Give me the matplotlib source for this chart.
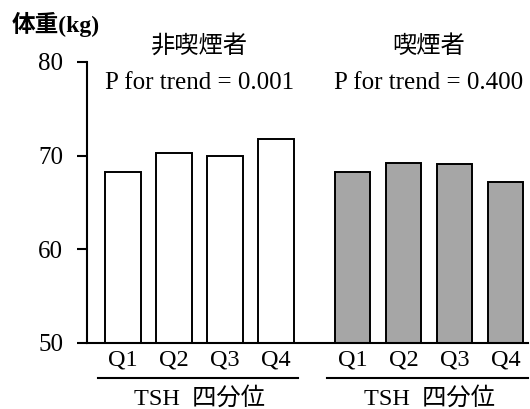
import numpy as np
import matplotlib.pyplot as plt

# 体重の平均値（TSH四分位ごと）
quartiles = ['Q1', 'Q2', 'Q3', 'Q4']
nonsmoker_weight = [68.2, 70.25, 69.9, 71.8]
smoker_weight = [68.2, 69.25, 69.1, 67.2]
group_titles = ['非喫煙者', '喫煙者']
trend_labels = ['P for trend = 0.001', 'P for trend = 0.400']
xlabel_text = 'TSH  四分位'
ylabel_text = '体重(kg)'
yticks = [50, 60, 70, 80]

serif = ['Liberation Serif', 'Noto Sans CJK JP']
cjk = ['Noto Sans CJK JP', 'DejaVu Sans']

fig = plt.figure(figsize=(5.3, 4.09), dpi=100)
ax = fig.add_axes([0.1636, 0.1614, 0.8324, 0.6876])

x_left = np.arange(4)
x_right = np.arange(4) + 4.5
width = 0.7

ax.bar(x_left, nonsmoker_weight, width=width, bottom=0, color='white',
       edgecolor='black', linewidth=1.4, zorder=2)
ax.bar(x_right, smoker_weight, width=width, bottom=0, color='#a6a6a6',
       edgecolor='black', linewidth=1.4, zorder=2)

ax.set_ylim(50, 80)
ax.set_xlim(-0.712, 7.94)
ax.set_yticks(yticks)
ax.set_yticklabels([str(v) for v in yticks], fontfamily=serif, fontsize=18)
ax.set_xticks(np.concatenate([x_left, x_right]))
ax.set_xticklabels(quartiles * 2, fontfamily=serif, fontsize=17.5)
ax.tick_params(axis='y', direction='out', length=7, width=1.5, pad=10)
ax.tick_params(axis='x', length=0, pad=5)

for side in ['top', 'right']:
    ax.spines[side].set_visible(False)
for side in ['left', 'bottom']:
    ax.spines[side].set_linewidth(1.5)

trans = ax.get_xaxis_transform()
for i, xs in enumerate([x_left, x_right]):
    center = (xs[0] + xs[-1]) / 2
    ax.text(center, 1.056, group_titles[i], transform=trans, ha='center',
            va='center', fontfamily=cjk, fontsize=17.5)
    ax.text(center, 0.925, trend_labels[i], transform=trans, ha='center',
            va='center', fontfamily=serif, fontsize=18)
    ax.plot([xs[0] - 0.5, xs[-1] + 0.44], [-0.124, -0.124], transform=trans,
            color='black', linewidth=1.5, clip_on=False)
    ax.text(center, -0.196, xlabel_text, transform=trans, ha='center',
            va='center', fontfamily=serif, fontsize=17.5)

fig.text(0.022, 0.941, ylabel_text, ha='left', va='center',
         fontfamily=serif, fontsize=17, fontweight='bold')

fig.savefig('out.png', dpi=100)
